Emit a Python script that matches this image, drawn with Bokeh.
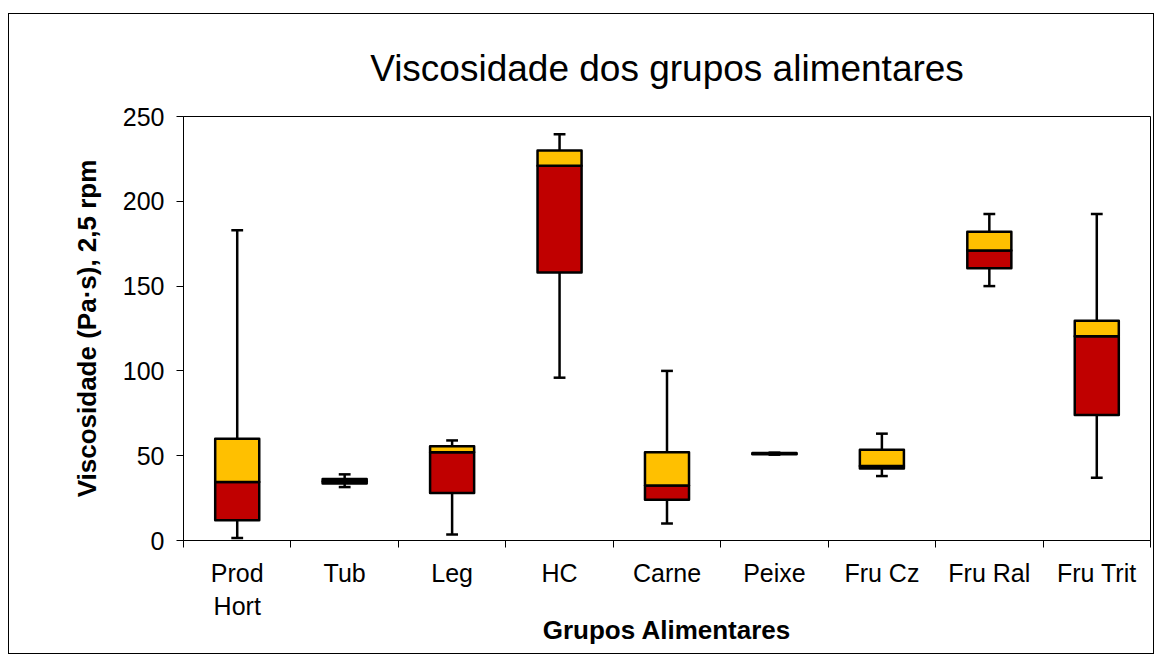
from bokeh.plotting import figure
from bokeh.models import FixedTicker, Range1d
from bokeh.embed import file_html
from bokeh.resources import INLINE
import numpy as np

categories = ["Prod Hort", "Tub", "Leg", "HC", "Carne", "Peixe", "Fru Cz", "Fru Ral", "Fru Trit"]
tick_labels = ["Prod\nHort", "Tub", "Leg", "HC", "Carne", "Peixe", "Fru Cz", "Fru Ral", "Fru Trit"]
mins = [1.5, 31.5, 3.5, 96, 10, 50.6, 38, 150, 37]
q1 = [12, 33.6, 28, 158, 24, 50.8, 42.5, 160.5, 74]
medians = [34.5, 34.8, 52, 221, 32.5, 51.2, 44, 171, 120.5]
q3 = [60, 36.3, 55.5, 230, 52, 51.6, 53.5, 182, 129.5]
maxs = [183, 39, 59, 239.5, 100, 51.8, 63, 192.5, 192.5]

FONT = "Liberation Sans"
xs = np.arange(1, len(categories) + 1)
box_w = 0.41
cap_w = 0.11

p = figure(width=1146, height=641, output_backend="svg", toolbar_location=None,
           x_range=Range1d(0.5, len(categories) + 0.5), y_range=Range1d(0, 250),
           min_border_left=174, min_border_right=5, min_border_top=102, min_border_bottom=115,
           x_axis_label="Grupos Alimentares", y_axis_label="Viscosidade (Pa·s), 2,5 rpm",
           title="Viscosidade dos grupos alimentares")
p.styles = {"margin-left": "8px", "margin-top": "13px", "border": "1px solid #000"}
p.background_fill_color = "white"
p.border_fill_color = "white"
p.outline_line_color = "black"
p.outline_line_width = 1
p.xgrid.visible = False
p.ygrid.visible = False

p.title.text_font = FONT
p.title.text_font_size = "37px"
p.title.text_font_style = "normal"
p.title.align = "center"
p.title.offset = 6
p.title.text_color = "black"
p.title.standoff = 56

# whiskers
p.segment(xs, q3, xs, maxs, line_color="black", line_width=2.5)
p.segment(xs, q1, xs, mins, line_color="black", line_width=2.5)
p.segment(xs - cap_w / 2, maxs, xs + cap_w / 2, maxs, line_color="black", line_width=2.5)
p.segment(xs - cap_w / 2, mins, xs + cap_w / 2, mins, line_color="black", line_width=2.5)

# boxes
p.vbar(x=xs, width=box_w, bottom=q1, top=medians, fill_color="#C00000",
       line_color="black", line_width=2.5, line_join="round")
p.vbar(x=xs, width=box_w, bottom=medians, top=q3, fill_color="#FFC000",
       line_color="black", line_width=2.5, line_join="round")

# x axis
p.xaxis.ticker = FixedTicker(ticks=list(xs), minor_ticks=list(np.arange(0.5, len(categories) + 1, 1.0)))
p.xaxis.major_label_overrides = {int(x): lab for x, lab in zip(xs, tick_labels)}
p.xaxis.major_tick_out = 0
p.xaxis.major_tick_in = 0
p.xaxis.minor_tick_out = 7
p.xaxis.minor_tick_in = 0
p.xaxis.minor_tick_line_color = "black"
p.xaxis.major_label_standoff = 11

# y axis
p.yaxis.ticker = FixedTicker(ticks=[0, 50, 100, 150, 200, 250], minor_ticks=[])
p.yaxis.major_tick_out = 7
p.yaxis.major_tick_in = 0
p.yaxis.minor_tick_line_color = None
p.yaxis.major_label_standoff = 12

for ax in (p.xaxis[0], p.yaxis[0]):
    ax.axis_line_color = "black"
    ax.major_tick_line_color = "black"
    ax.major_label_text_font = FONT
    ax.major_label_text_font_size = "25px"
    ax.major_label_text_color = "black"
    ax.axis_label_text_font = FONT
    ax.axis_label_text_font_size = "26px"
    ax.axis_label_text_font_style = "bold"
    ax.axis_label_text_color = "black"

p.xaxis.axis_label_standoff = -8
p.yaxis.axis_label_standoff = 18

open("out.html", "w").write(file_html(p, INLINE))
